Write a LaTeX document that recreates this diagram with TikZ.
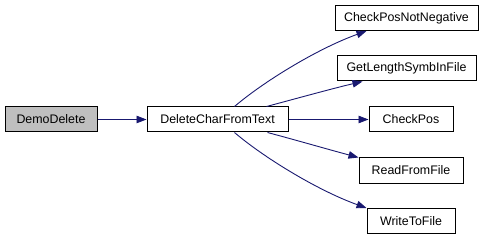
\documentclass[tikz,border=0pt]{standalone}
\usepackage{fontspec}
\setmainfont{Liberation Sans}
\usetikzlibrary{arrows.meta}
\definecolor{edgeblue}{HTML}{191970}
\definecolor{rootgray}{HTML}{BFBFBF}
\begin{document}
\begin{tikzpicture}[x=1pt,y=-1pt,
  fn/.style={draw=black,line width=1pt,rectangle,inner sep=0pt,minimum height=25pt,
    font=\fontsize{12.4}{14}\selectfont},
  call/.style={draw=edgeblue,line width=0.9pt,-{Triangle[length=10pt,width=7.5pt]}}]
\useasboundingbox (0,0) rectangle (492,240);
% caller and the function it calls
\node[fn,fill=rootgray,minimum width=92pt] (demo) at (51,119.5) {DemoDelete};
\node[fn,fill=white,minimum width=141pt] (del) at (217.5,119.5) {DeleteCharFromText};
% functions called by DeleteCharFromText
\node[fn,fill=white,minimum width=143pt] (cpnn) at (406.5,18) {CheckPosNotNegative};
\node[fn,fill=white,minimum width=139pt] (glen) at (406.5,68.5) {GetLengthSymbInFile};
\node[fn,fill=white,minimum width=84pt] (cpos) at (411,119.5) {CheckPos};
\node[fn,fill=white,minimum width=104pt] (rff) at (411,170.5) {ReadFromFile};
\node[fn,fill=white,minimum width=88pt] (wtf) at (411,221) {WriteToFile};
% calls
\draw[call] (demo.east) -- (del.west);
\draw[call] ([xshift=88pt]del.north west) .. controls +(28,-24) and +(-50,18) .. ([xshift=32pt]cpnn.south west);
\draw[call] ([xshift=120pt]del.north west) .. controls +(30,-8) and +(-30,7) .. ([xshift=26pt]glen.south west);
\draw[call] (del.east) -- (cpos.west);
\draw[call] ([xshift=121pt]del.south west) .. controls +(30,8) and +(-30,-8) .. (rff.north west);
\draw[call] ([xshift=88pt]del.south west) .. controls +(28,24) and +(-50,-18) .. ([xshift=0pt]wtf.north west);
\end{tikzpicture}
\end{document}
